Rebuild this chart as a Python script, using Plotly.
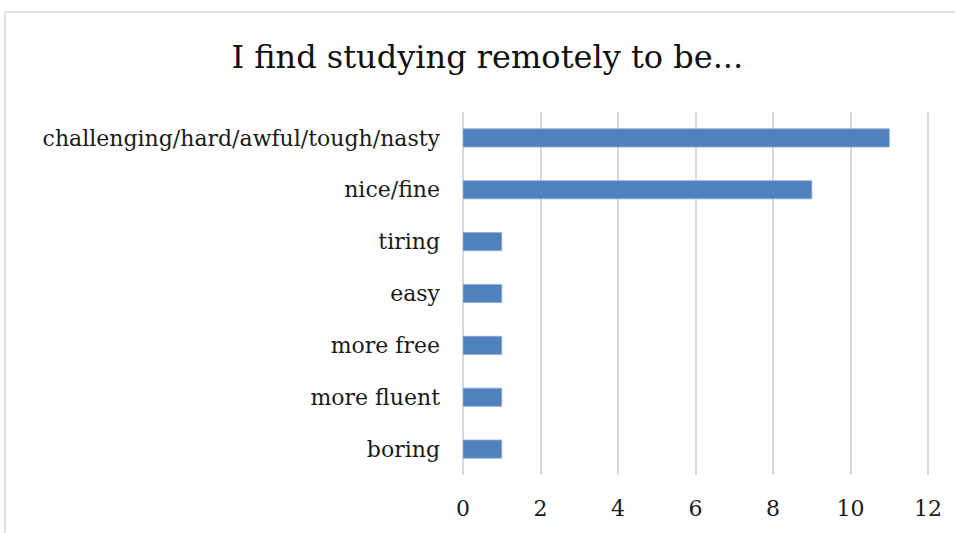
import plotly.graph_objects as go

# categories listed bottom to top as plotted
categories = ["boring", "more fluent", "more free", "easy", "tiring", "nice/fine",
              "challenging/hard/awful/tough/nasty"]
counts = [1, 1, 1, 1, 1, 9, 11]
tick_vals = [0, 2, 4, 6, 8, 10, 12]

font_family = "DejaVu Serif, Liberation Serif, serif"

fig = go.Figure()
fig.add_trace(go.Bar(
    x=counts,
    y=categories,
    orientation="h",
    width=0.35,
    marker_color="#4f81bd",
    marker_line=dict(color="#8eaad6", width=0.8),
))

fig.update_layout(
    width=955,
    height=533,
    margin=dict(l=463, r=25, t=112, b=56),
    paper_bgcolor="white",
    plot_bgcolor="white",
    showlegend=False,
    font=dict(family=font_family, size=22, color="#1a1a1a"),
    title=dict(
        text="I find studying remotely to be...",
        font=dict(family=font_family, size=32, color="#111111"),
        x=0.052, xref="paper", xanchor="center",
        y=1 - 57 / 533, yref="container", yanchor="middle",
    ),
)

fig.update_xaxes(
    range=[0, 12.05],
    tickvals=tick_vals,
    showgrid=True,
    gridcolor="#d9d9d9",
    gridwidth=1.5,
    zeroline=True,
    zerolinecolor="#d9d9d9",
    zerolinewidth=1.5,
    showline=False,
    ticks="",
    ticklabelstandoff=18,
)
fig.update_yaxes(
    showgrid=False,
    showline=False,
    ticks="",
    ticklabelstandoff=22,
)

# light outer frame of the chart
fig.add_shape(
    type="rect", xref="paper", yref="paper",
    x0=(5 - 463) / 467, x1=(962 - 463) / 467,
    y0=(477 - 545) / 365, y1=(477 - 11.5) / 365,
    line=dict(color="#d9d9d9", width=1.5),
    fillcolor="rgba(0,0,0,0)",
    layer="below",
)

# drop the default page margin so the figure sits at the window origin
fig.write_html("out.html", config={"displayModeBar": False},
               post_script="document.body.style.margin='0';")
